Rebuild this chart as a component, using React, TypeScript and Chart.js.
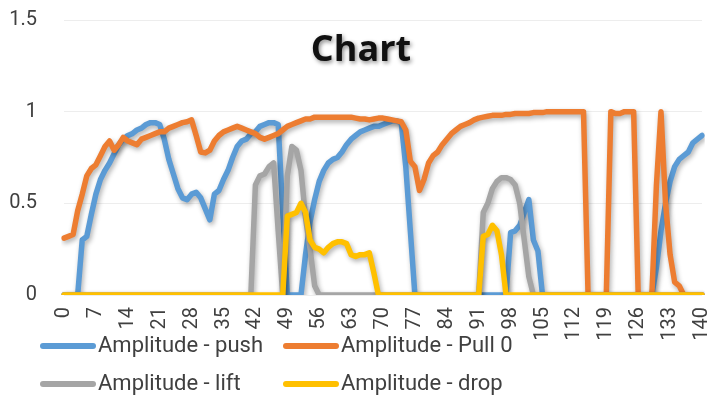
import React, { useEffect, useRef } from 'react';
import { Chart, registerables } from 'chart.js';

Chart.register(...registerables);

const TITLE = 'Chart';
const CATEGORIES: string[] = Array.from({ length: 141 }, (_, i) => String(i));
const TICK_LABELS = ['0', '7', '14', '21', '28', '35', '42', '49', '56', '63', '70', '77', '84', '91', '98', '105', '112', '119', '126', '133', '140'];
const SERIES_NAMES = ['Amplitude - push', 'Amplitude - Pull 0', 'Amplitude - lift', 'Amplitude - drop'];
const SERIES_COLORS = ['#5B9BD5', '#ED7D31', '#A5A5A5', '#FFC000'];

// index 0..140
const PUSH = [
  0, 0, 0, 0, 0.30, 0.32, 0.44, 0.55, 0.63, 0.68,
  0.72, 0.77, 0.82, 0.85, 0.87, 0.88, 0.90, 0.91, 0.93, 0.94,
  0.94, 0.93, 0.85, 0.74, 0.66, 0.58, 0.53, 0.52, 0.55, 0.56,
  0.53, 0.47, 0.41, 0.55, 0.57, 0.63, 0.68, 0.75, 0.81, 0.84,
  0.85, 0.88, 0.89, 0.92, 0.93, 0.94, 0.94, 0.93, 0.45, 0,
  0, 0, 0, 0.22, 0.40, 0.52, 0.62, 0.68, 0.72, 0.74,
  0.75, 0.78, 0.82, 0.85, 0.87, 0.89, 0.90, 0.91, 0.92, 0.92,
  0.93, 0.94, 0.95, 0.95, 0.94, 0.70, 0.35, 0, 0, 0,
  0, 0, 0, 0, 0, 0, 0, 0, 0, 0,
  0, 0, 0, 0, 0, 0, 0, 0, 0.34, 0.35,
  0.38, 0.45, 0.52, 0.30, 0.24, 0, 0, 0, 0, 0,
  0, 0, 0, 0, 0, 0, 0, 0, 0, 0,
  0, 0, 0, 0, 0, 0, 0, 0, 0, 0,
  0.15, 0.35, 0.50, 0.62, 0.70, 0.74, 0.76, 0.78, 0.83, 0.85,
  0.87,
];

const PULL = [
  0.31, 0.32, 0.33, 0.46, 0.55, 0.65, 0.69, 0.71, 0.76, 0.81,
  0.84, 0.79, 0.82, 0.86, 0.84, 0.83, 0.82, 0.85, 0.86, 0.87,
  0.88, 0.89, 0.89, 0.91, 0.92, 0.93, 0.94, 0.945, 0.955, 0.87,
  0.78, 0.775, 0.79, 0.84, 0.87, 0.89, 0.90, 0.91, 0.92, 0.91,
  0.90, 0.89, 0.88, 0.86, 0.85, 0.86, 0.87, 0.88, 0.90, 0.92,
  0.93, 0.94, 0.95, 0.96, 0.96, 0.97, 0.97, 0.97, 0.97, 0.97,
  0.97, 0.97, 0.97, 0.97, 0.965, 0.96, 0.96, 0.955, 0.96, 0.965,
  0.965, 0.96, 0.955, 0.95, 0.945, 0.90, 0.73, 0.70, 0.57, 0.63,
  0.72, 0.76, 0.78, 0.82, 0.85, 0.88, 0.90, 0.92, 0.93, 0.94,
  0.955, 0.965, 0.97, 0.975, 0.98, 0.98, 0.98, 0.985, 0.985, 0.99,
  0.99, 0.99, 0.99, 0.995, 0.995, 0.995, 1, 1, 1, 1,
  1, 1, 1, 1, 1, 0, 0, 0, 0, 0,
  1, 0.99, 0.99, 1, 1, 1, 0, 0, 0, 0,
  0.6, 1, 0.5, 0.22, 0.07, 0.05, 0, 0, 0, 0,
  0,
];

const LIFT = [
  0, 0, 0, 0, 0, 0, 0, 0, 0, 0,
  0, 0, 0, 0, 0, 0, 0, 0, 0, 0,
  0, 0, 0, 0, 0, 0, 0, 0, 0, 0,
  0, 0, 0, 0, 0, 0, 0, 0, 0, 0,
  0, 0, 0.60, 0.65, 0.66, 0.70, 0.72, 0.35, 0, 0.65,
  0.81, 0.79, 0.68, 0.42, 0.25, 0.05, 0, 0, 0, 0,
  0, 0, 0, 0, 0, 0, 0, 0, 0, 0,
  0, 0, 0, 0, 0, 0, 0, 0, 0, 0,
  0, 0, 0, 0, 0, 0, 0, 0, 0, 0,
  0, 0, 0.45, 0.50, 0.58, 0.62, 0.64, 0.64, 0.63, 0.60,
  0.50, 0.30, 0.10, 0, 0, 0, 0, 0, 0, 0,
  0, 0, 0, 0, 0, 0, 0, 0, 0, 0,
  0, 0, 0, 0, 0, 0, 0, 0, 0, 0,
  0, 0, 0, 0, 0, 0, 0, 0, 0, 0,
  0,
];

const DROP = [
  0, 0, 0, 0, 0, 0, 0, 0, 0, 0,
  0, 0, 0, 0, 0, 0, 0, 0, 0, 0,
  0, 0, 0, 0, 0, 0, 0, 0, 0, 0,
  0, 0, 0, 0, 0, 0, 0, 0, 0, 0,
  0, 0, 0, 0, 0, 0, 0, 0, 0, 0.43,
  0.44, 0.45, 0.50, 0.45, 0.30, 0.26, 0.25, 0.23, 0.26, 0.28,
  0.29, 0.29, 0.28, 0.22, 0.21, 0.22, 0.22, 0.23, 0.12, 0,
  0, 0, 0, 0, 0, 0, 0, 0, 0, 0,
  0, 0, 0, 0, 0, 0, 0, 0, 0, 0,
  0, 0, 0.32, 0.33, 0.38, 0.35, 0.22, 0, 0, 0,
  0, 0, 0, 0, 0, 0, 0, 0, 0, 0,
  0, 0, 0, 0, 0, 0, 0, 0, 0, 0,
  0, 0, 0, 0, 0, 0, 0, 0, 0, 0,
  0, 0, 0, 0, 0, 0, 0, 0, 0, 0,
  0,
];

const SERIES_VALUES = [PUSH, PULL, LIFT, DROP];

const TEXT_COLOR = '#404040';

const shadowPlugin = {
  id: 'softShadow',
  beforeDatasetDraw(chart: any) {
    const c = chart.ctx;
    c.save();
    c.shadowColor = 'rgba(0,0,0,0.32)';
    c.shadowBlur = 5;
    c.shadowOffsetX = 1.5;
    c.shadowOffsetY = 2.5;
  },
  afterDatasetDraw(chart: any) {
    chart.ctx.restore();
  },
};

const titlePlugin = {
  id: 'overlayTitle',
  afterDraw(chart: any) {
    const c = chart.ctx;
    c.save();
    c.font = 'bold 36px "Open Sans", "Liberation Sans", sans-serif';
    c.textAlign = 'center';
    c.textBaseline = 'alphabetic';
    c.shadowColor = 'rgba(0,0,0,0.45)';
    c.shadowBlur = 4;
    c.shadowOffsetX = 1.5;
    c.shadowOffsetY = 2;
    c.fillStyle = '#111111';
    c.fillText(TITLE, 361, 61);
    c.restore();
  },
};

const legendPlugin = {
  id: 'gridLegend',
  afterDraw(chart: any) {
    const c = chart.ctx;
    const colX = [40, 283];
    const rowY = [346, 384];
    c.save();
    c.font = '22px Roboto, "Liberation Sans", sans-serif';
    c.textBaseline = 'middle';
    c.textAlign = 'left';
    chart.data.datasets.forEach((ds: any, i: number) => {
      const x = colX[i % 2];
      const y = rowY[Math.floor(i / 2)];
      c.strokeStyle = ds.borderColor;
      c.lineWidth = 6;
      c.lineCap = 'round';
      c.beginPath();
      c.moveTo(x + 3, y);
      c.lineTo(x + 53, y);
      c.stroke();
      c.fillStyle = TEXT_COLOR;
      c.fillText(ds.label, x + 58, y);
    });
    c.restore();
  },
};

const zeroPadding = (scale: any) => {
  scale.paddingLeft = 0;
  scale.paddingRight = 0;
  scale.paddingTop = 0;
  scale.paddingBottom = 0;
};

export default function App() {
  const canvasRef = useRef<HTMLCanvasElement | null>(null);

  useEffect(() => {
    if (!canvasRef.current) return;
    const chart = new Chart(canvasRef.current, {
      type: 'line',
      data: {
        labels: CATEGORIES,
        datasets: SERIES_NAMES.map((name, i) => ({
          label: name,
          data: SERIES_VALUES[i],
          borderColor: SERIES_COLORS[i],
          backgroundColor: SERIES_COLORS[i],
          borderWidth: 5.5,
          pointRadius: 0,
          tension: 0,
          fill: false,
          borderJoinStyle: 'round',
          borderCapStyle: 'round',
          order: SERIES_NAMES.length - i,
        })),
      },
      options: {
        responsive: false,
        animation: false,
        layout: { padding: { top: 20, right: 12, left: 0, bottom: 0 } },
        plugins: {
          legend: { display: false },
          title: { display: false },
          tooltip: { enabled: false },
        },
        scales: {
          x: {
            type: 'category',
            offset: false,
            grid: { display: false, drawTicks: false },
            border: { display: false },
            ticks: {
              autoSkip: false,
              minRotation: 90,
              maxRotation: 90,
              padding: 12,
              color: TEXT_COLOR,
              font: { family: 'Roboto, "Liberation Sans", sans-serif', size: 20 },
              callback: (_v: any, index: number) => {
                const lbl = CATEGORIES[index];
                return TICK_LABELS.includes(lbl) ? lbl : null;
              },
            },
            afterFit: (scale: any) => {
              scale.height = 111;
              zeroPadding(scale);
            },
          },
          y: {
            min: 0,
            max: 1.5,
            grid: { color: '#ededed', drawTicks: false, lineWidth: 1 },
            border: { display: false },
            ticks: {
              stepSize: 0.5,
              padding: 27,
              color: TEXT_COLOR,
              font: { family: 'Roboto, "Liberation Sans", sans-serif', size: 20 },
              callback: (v: any) => String(v),
            },
            afterFit: (scale: any) => {
              scale.width = 64;
              zeroPadding(scale);
            },
          },
        },
      } as any,
      plugins: [shadowPlugin, titlePlugin, legendPlugin],
    });
    return () => chart.destroy();
  }, []);

  return (
    <div style={{ position: 'fixed', left: 0, top: 0, width: 714, height: 406, background: '#ffffff' }}>
      <canvas ref={canvasRef} width={714} height={406} style={{ display: 'block', width: 714, height: 406 }} />
    </div>
  );
}
